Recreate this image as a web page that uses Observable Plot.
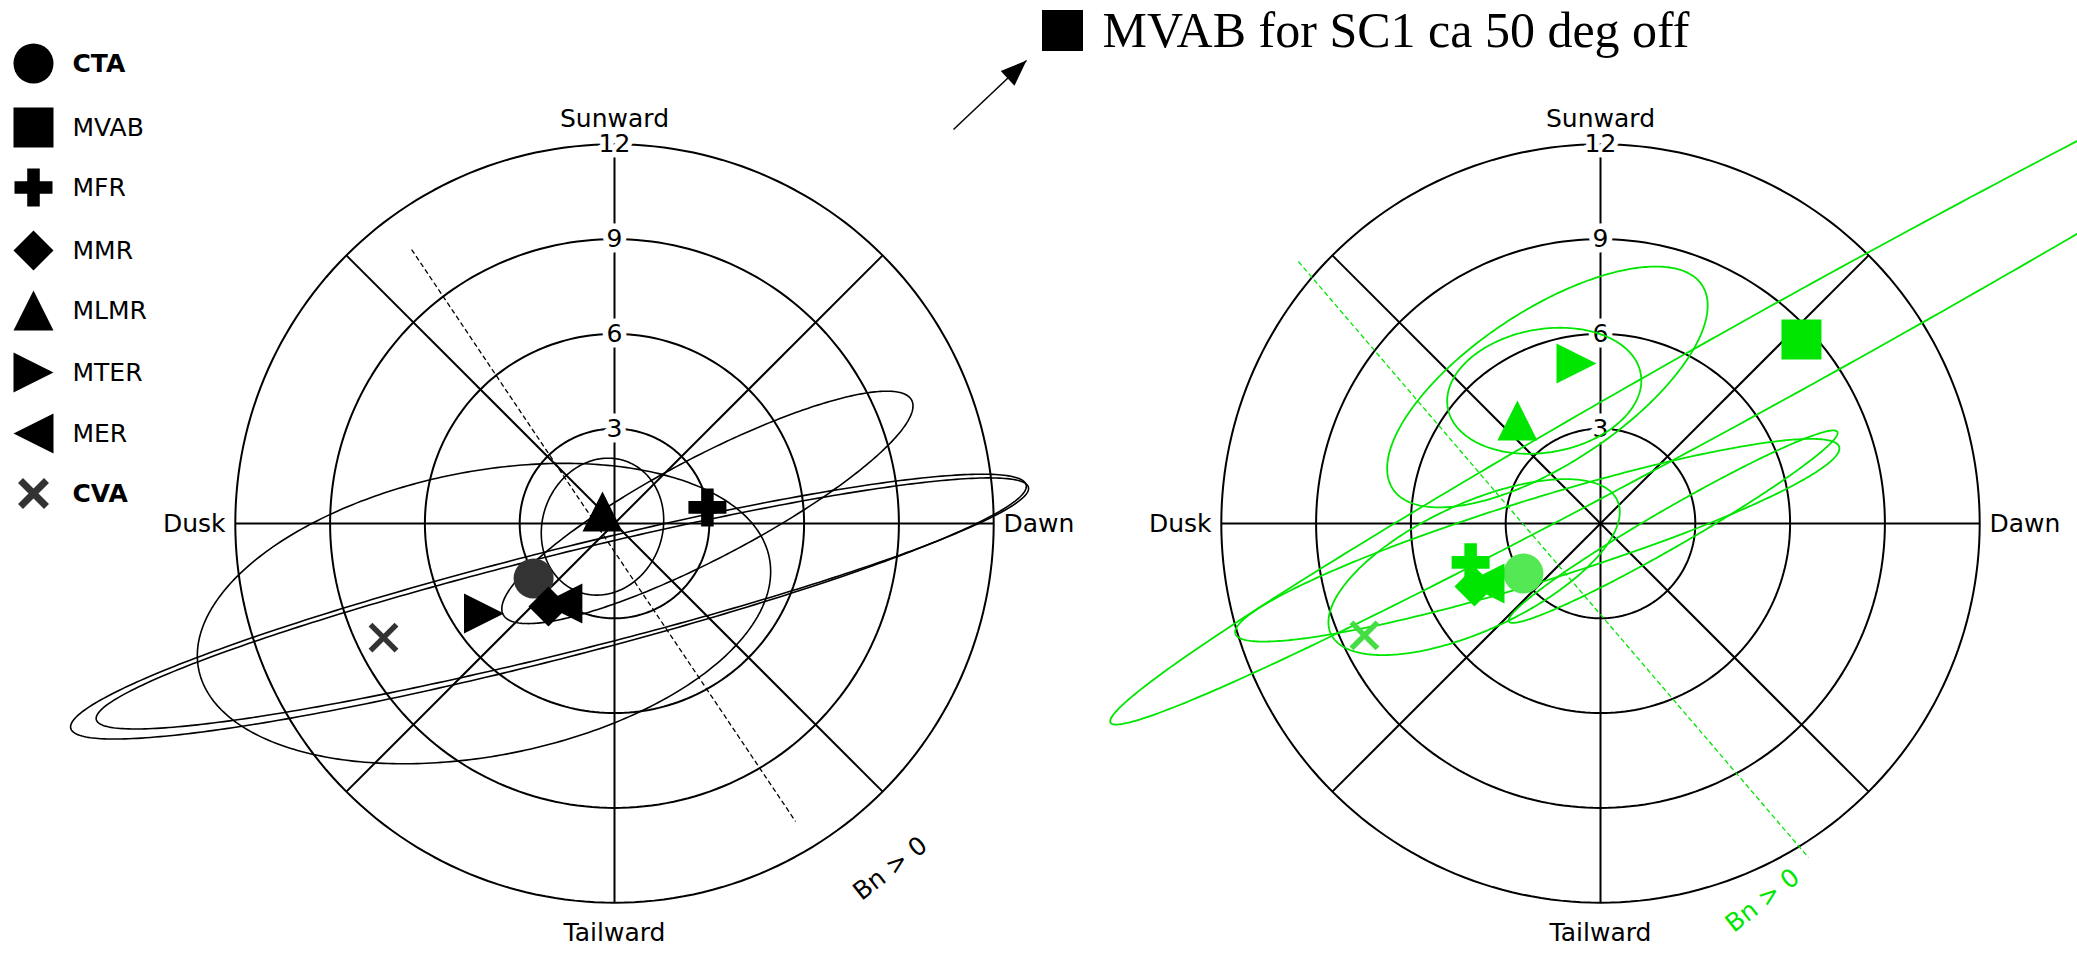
<!DOCTYPE html>
<html>
<head>
<meta charset="utf-8">
<script src="https://cdn.jsdelivr.net/npm/d3@7"></script>
<script src="https://cdn.jsdelivr.net/npm/@observablehq/plot@0.6"></script>
<style>
  html, body { margin: 0; padding: 0; background: #fff; }
  #chart { width: 2077px; height: 953px; overflow: hidden; }
</style>
</head>
<body>
<div id="chart"></div>
<script>
// ---- Methods shown in the legend ----
const methods = ["CTA", "MVAB", "MFR", "MMR", "MLMR", "MTER", "MER", "CVA"];
const boldMethods = ["CTA", "CVA"];

// ---- Polar frame: rings (radius units) and direction names ----
const ringRadii = [3, 6, 9, 12];
const ringLabels = ["3", "6", "9", "12"];
const spokeAngles = [0, 45, 90, 135, 180, 225, 270, 315];
const directionNames = ["Sunward", "Dawn", "Tailward", "Dusk"];

// ---- Left panel (black): normal estimates, x toward Dawn, y toward Sunward ----
const blackMethod = ["CTA", "MFR", "MMR", "MLMR", "MTER", "MER", "CVA"];
const blackX = [-2.56, 2.94, -2.09, -0.38, -4.13, -1.65, -7.31];
const blackY = [-1.74, 0.51, -2.63, 0.38, -2.85, -2.53, -3.61];

// error ellipses (centre, semi-axes, tilt in degrees)
const blackEllMethod = ["MTER", "MMR", "MER", "MFR", "MLMR"];
const blackEllCX = [-4.13, -2.09, -1.65, 2.94, -0.38];
const blackEllCY = [-2.85, -2.63, -2.53, 0.51, -0.1];
const blackEllA = [9.2, 15.6, 15.2, 7.3, 2.2];
const blackEllB = [4.5, 1.7, 1.55, 1.6, 1.9];
const blackEllTilt = [11, 14.3, 14.0, 27.7, 70];

// Bn = 0 boundary (dashed) end points
const blackBnX = [-6.42, 5.73];
const blackBnY = [8.67, -9.43];

// ---- Right panel (green) ----
const greenMethod = ["CTA", "MVAB", "MFR", "MMR", "MLMR", "MTER", "MER", "CVA"];
const greenX = [-2.44, 6.36, -4.11, -3.99, -2.63, -0.76, -3.67, -7.47];
const greenY = [-1.58, 5.82, -1.23, -1.99, 3.26, 5.06, -1.90, -3.54];

const greenEllMethod = ["MVAB", "MER", "MTER", "MLMR", "MFR", "MMR"];
const greenEllCX = [6.36, -2.0, -1.68, -1.78, -4.0, 2.3];
const greenEllCY = [5.82, -0.53, 4.32, 4.2, -1.38, -0.1];
const greenEllA = [25, 10.0, 5.86, 3.1, 5.0, 6.0];
const greenEllB = [1.4, 1.3, 2.43, 1.95, 2.0, 0.6];
const greenEllTilt = [29, 17.2, 33.4, 10, 25, 30];

const greenBnX = [-9.56, 6.58];
const greenBnY = [8.29, -10.57];

// ---- Layout (pixels) ----
const W = 2077, H = 953, PX = 31.6;      // pixels per radius unit
const CX0 = 614, CY0 = 523;              // centre of the left panel
const SHIFT = (1600 - CX0) / PX;         // right panel offset in units
const XMIN = -CX0 / PX, XMAX = (W - CX0) / PX;
const YMAX = CY0 / PX, YMIN = (CY0 - H) / PX;
const px2x = p => XMIN + p / PX;
const px2y = p => YMAX - p / PX;

const BLACK = "#000", DARK = "#333";
const GREEN = "#00e600", GREEN_CTA = "#55e855", GREEN_CVA = "#44dd44";

// ---- Custom marker shapes, sized by their half extent h ----
const shape = fn => ({ draw(c, size) { fn(c, Math.sqrt(size / Math.PI)); } });
const symbols = {
  CTA: shape((c, h) => { c.moveTo(h, 0); c.arc(0, 0, h, 0, 2 * Math.PI); }),
  MVAB: shape((c, h) => { c.rect(-h, -h, 2 * h, 2 * h); }),
  MFR: shape((c, h) => {
    const t = h * 0.33;
    c.moveTo(-t, -h); c.lineTo(t, -h); c.lineTo(t, -t); c.lineTo(h, -t); c.lineTo(h, t);
    c.lineTo(t, t); c.lineTo(t, h); c.lineTo(-t, h); c.lineTo(-t, t); c.lineTo(-h, t);
    c.lineTo(-h, -t); c.lineTo(-t, -t); c.closePath();
  }),
  MMR: shape((c, h) => { c.moveTo(0, -h); c.lineTo(h, 0); c.lineTo(0, h); c.lineTo(-h, 0); c.closePath(); }),
  MLMR: shape((c, h) => { c.moveTo(0, -h); c.lineTo(h, h); c.lineTo(-h, h); c.closePath(); }),
  MTER: shape((c, h) => { c.moveTo(h, 0); c.lineTo(-h, -h); c.lineTo(-h, h); c.closePath(); }),
  MER: shape((c, h) => { c.moveTo(-h, 0); c.lineTo(h, -h); c.lineTo(h, h); c.closePath(); }),
  CVA: shape((c, h) => { c.moveTo(-h, -h); c.lineTo(h, h); c.moveTo(h, -h); c.lineTo(-h, h); })
};
const arrowHead = shape((c, h) => { c.moveTo(0, 0); c.lineTo(-1.3 * h, -0.5 * h); c.lineTo(-1.3 * h, 0.5 * h); c.closePath(); });
const markerSize = { CTA: 20, MVAB: 20, MFR: 19, MMR: 20, MLMR: 20, MTER: 20, MER: 20, CVA: 13 };

// ---- Geometry helpers ----
function ringPoints(off) {
  const pts = [];
  ringRadii.forEach(r => {
    for (let i = 0; i <= 240; i++) {
      const t = (i / 240) * 2 * Math.PI;
      pts.push({ id: `${off}-${r}`, x: off + r * Math.cos(t), y: r * Math.sin(t) });
    }
  });
  return pts;
}
function spokes(off) {
  const R = ringRadii[ringRadii.length - 1];
  return spokeAngles.map(a => ({
    x1: off, y1: 0,
    x2: off + R * Math.cos(a * Math.PI / 180), y2: R * Math.sin(a * Math.PI / 180)
  }));
}
function ellipses(method, cx, cy, a, b, tilt, off) {
  const pts = [];
  method.forEach((m, k) => {
    const th = tilt[k] * Math.PI / 180;
    for (let i = 0; i <= 360; i++) {
      const t = (i / 360) * 2 * Math.PI;
      const u = a[k] * Math.cos(t), v = b[k] * Math.sin(t);
      pts.push({ id: m, x: off + cx[k] + u * Math.cos(th) - v * Math.sin(th), y: cy[k] + u * Math.sin(th) + v * Math.cos(th) });
    }
  });
  return pts;
}
function frameMarks(off) {
  const lab = ringRadii.map((r, i) => ({ x: off, y: r, t: ringLabels[i] }));
  const dirs = [
    { x: off, y: px2y(118), t: directionNames[0], a: "middle" },
    { x: off + (1003 - CX0) / PX, y: 0, t: directionNames[1], a: "start" },
    { x: off, y: px2y(932), t: directionNames[2], a: "middle" },
    { x: off - (1003 - CX0) / PX, y: 0, t: directionNames[3], a: "end" }
  ];
  return [
    Plot.line(ringPoints(off), { x: "x", y: "y", z: "id", stroke: BLACK, strokeWidth: 2 }),
    Plot.link(spokes(off), { x1: "x1", y1: "y1", x2: "x2", y2: "y2", stroke: BLACK, strokeWidth: 2 }),
    Plot.text(lab, { x: "x", y: "y", text: "t", fill: BLACK, stroke: "white", strokeWidth: 11, fontSize: 25 }),
    Plot.text(dirs.filter(d => d.a === "middle"), { x: "x", y: "y", text: "t", textAnchor: "middle", fontSize: 25, fill: BLACK }),
    Plot.text(dirs.filter(d => d.a === "start"), { x: "x", y: "y", text: "t", textAnchor: "start", fontSize: 25, fill: BLACK }),
    Plot.text(dirs.filter(d => d.a === "end"), { x: "x", y: "y", text: "t", textAnchor: "end", fontSize: 25, fill: BLACK })
  ];
}
function markerMarks(method, xs, ys, off, colorOf) {
  return method.map((m, i) => {
    const d = [{ x: off + xs[i], y: ys[i] }];
    const c = colorOf(m);
    return m === "CVA"
      ? Plot.dot(d, { x: "x", y: "y", symbol: symbols[m], r: markerSize[m], fill: "none", stroke: c, strokeWidth: 5.5 })
      : Plot.dot(d, { x: "x", y: "y", symbol: symbols[m], r: markerSize[m], fill: c, stroke: "none" });
  });
}

// ---- Legend rows (pixel y of each row) ----
const legendRowY = [63, 127, 187, 250, 310, 372, 433, 493];
const legendMarks = [];
methods.forEach((m, i) => {
  const d = [{ x: px2x(33), y: px2y(legendRowY[i]) }];
  legendMarks.push(m === "CVA"
    ? Plot.dot(d, { x: "x", y: "y", symbol: symbols[m], r: 13, fill: "none", stroke: DARK, strokeWidth: 7 })
    : Plot.dot(d, { x: "x", y: "y", symbol: symbols[m], r: markerSize[m], fill: BLACK, stroke: "none" }));
  legendMarks.push(Plot.text([{ x: px2x(72), y: px2y(legendRowY[i]), t: m }], {
    x: "x", y: "y", text: "t", textAnchor: "start", fontSize: 25,
    fontWeight: boldMethods.includes(m) ? "bold" : "normal", fill: BLACK
  }));
});

// ---- Annotation: arrow towards an off-chart MVAB estimate ----
const arrowFrom = { x: px2x(953), y: px2y(129) };
const arrowTo = { x: px2x(1026), y: px2y(60) };
const arrowAngle = Math.atan2(-(60 - 129), 1026 - 953) * 180 / Math.PI;
const noteText = "MVAB for SC1 ca 50 deg off";

const blackColor = m => (m === "CTA" || m === "CVA") ? DARK : BLACK;
const greenColor = m => m === "CTA" ? GREEN_CTA : m === "CVA" ? GREEN_CVA : GREEN;

const chart = Plot.plot({
  width: W, height: H,
  margin: 0,
  clip: true,
  style: { fontFamily: "'DejaVu Sans', sans-serif", background: "white" },
  x: { domain: [XMIN, XMAX], axis: null },
  y: { domain: [YMIN, YMAX], axis: null },
  marks: [
    ...frameMarks(0),
    ...frameMarks(SHIFT),
    Plot.line(ellipses(blackEllMethod, blackEllCX, blackEllCY, blackEllA, blackEllB, blackEllTilt, 0),
      { x: "x", y: "y", z: "id", stroke: BLACK, strokeWidth: 1.6 }),
    Plot.line(ellipses(greenEllMethod, greenEllCX, greenEllCY, greenEllA, greenEllB, greenEllTilt, SHIFT),
      { x: "x", y: "y", z: "id", stroke: GREEN, strokeWidth: 1.8 }),
    Plot.link([{ x1: blackBnX[0], y1: blackBnY[0], x2: blackBnX[1], y2: blackBnY[1] }],
      { x1: "x1", y1: "y1", x2: "x2", y2: "y2", stroke: BLACK, strokeWidth: 1.3, strokeDasharray: "5,3" }),
    Plot.link([{ x1: SHIFT + greenBnX[0], y1: greenBnY[0], x2: SHIFT + greenBnX[1], y2: greenBnY[1] }],
      { x1: "x1", y1: "y1", x2: "x2", y2: "y2", stroke: GREEN, strokeWidth: 1.3, strokeDasharray: "5,3" }),
    Plot.text([{ x: 8.73, y: -10.92, t: "Bn > 0" }], { x: "x", y: "y", text: "t", rotate: -38, fontSize: 25, fill: BLACK }),
    Plot.text([{ x: SHIFT + 5.13, y: -11.93, t: "Bn > 0" }], { x: "x", y: "y", text: "t", rotate: -38, fontSize: 25, fill: GREEN }),
    ...markerMarks(blackMethod, blackX, blackY, 0, blackColor),
    ...markerMarks(greenMethod, greenX, greenY, SHIFT, greenColor),
    ...legendMarks,
    Plot.link([{ x1: arrowFrom.x, y1: arrowFrom.y, x2: arrowTo.x, y2: arrowTo.y }],
      { x1: "x1", y1: "y1", x2: "x2", y2: "y2", stroke: BLACK, strokeWidth: 1.5 }),
    Plot.dot([arrowTo], { x: "x", y: "y", symbol: arrowHead, r: 20, rotate: -arrowAngle, fill: BLACK, stroke: "none" }),
    Plot.dot([{ x: px2x(1062), y: px2y(30) }], { x: "x", y: "y", symbol: symbols.MVAB, r: 20.5, fill: BLACK, stroke: "none" }),
    Plot.text([{ x: px2x(1102), y: px2y(30), t: noteText }], {
      x: "x", y: "y", text: "t", textAnchor: "start", fontSize: 50,
      fontFamily: "'Liberation Serif', serif", fill: BLACK
    })
  ]
});
document.getElementById("chart").appendChild(chart);
</script>
</body>
</html>
